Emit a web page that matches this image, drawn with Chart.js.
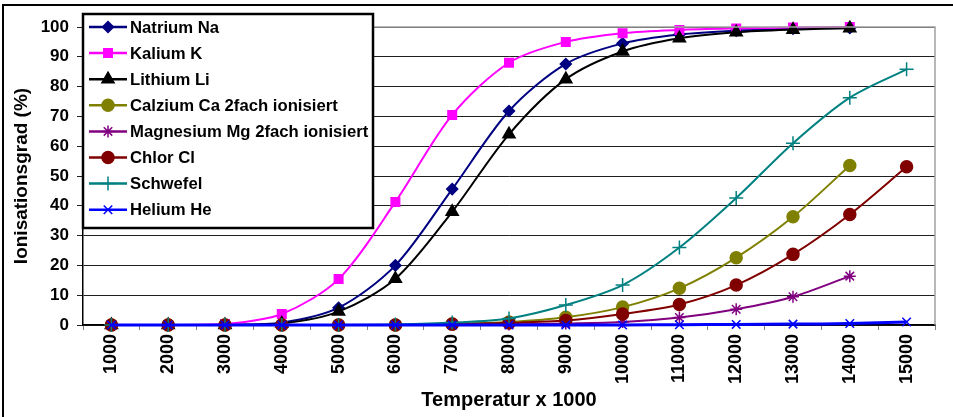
<!DOCTYPE html>
<html>
<head>
<meta charset="utf-8">
<script src="https://cdn.jsdelivr.net/npm/chart.js@4/dist/chart.umd.min.js"></script>
<style>
  html, body { margin: 0; padding: 0; background: #fff; }
  #wrap { width: 953px; height: 417px; position: relative; }
</style>
</head>
<body>
<div id="wrap"><canvas id="ionChart" width="953" height="417"></canvas></div>
<script>
// Temperature categories (x 1000)
const temps = ["1000","2000","3000","4000","5000","6000","7000","8000","9000","10000","11000","12000","13000","14000","15000"];
const yTicks = [0,10,20,30,40,50,60,70,80,90,100];

// Ionisation degree (%)
const natrium   = [0, 0, 0.1, 0.8, 5.8, 20, 45.6, 71.8, 87.6, 94.5, 97.5, 98.8, 99.4, 99.7];
const kalium    = [0, 0, 0.3, 3.7, 15.4, 41.3, 70.5, 88, 95, 97.9, 99, 99.5, 99.8, 100];
const lithium   = [0, 0, 0, 0.5, 4.5, 15.5, 38, 64, 82.5, 91.8, 96.2, 98.2, 99.1, 99.6];
const calzium   = [0, 0, 0, 0, 0, 0, 0.3, 1.0, 2.6, 6.0, 12.3, 22.6, 36.3, 53.5];
const magnesium = [0, 0, 0, 0, 0, 0, 0.1, 0.2, 0.5, 1.0, 2.5, 5.3, 9.5, 16.4];
const chlor     = [0, 0, 0, 0, 0, 0, 0.3, 0.7, 1.5, 3.7, 6.9, 13.4, 23.7, 37.1, 53.1];
const schwefel  = [0, 0, 0, 0, 0, 0.2, 0.8, 2.2, 6.7, 13.4, 26, 42.6, 61, 76.3, 85.8];
const helium    = [0, 0, 0, 0, 0, 0, 0, 0, 0, 0, 0.1, 0.2, 0.3, 0.5, 1.0];

const FONT = "'Liberation Sans', Arial, sans-serif";

function series(label, data, color, style, radius, width) {
    return {
        label: label,
        data: data,
        borderColor: color,
        backgroundColor: color,
        pointBackgroundColor: color,
        pointBorderColor: color,
        pointStyle: style,
        pointRadius: radius,
        pointHoverRadius: radius,
        pointBorderWidth: 1.5,
        borderWidth: width || 2,
        tension: 0.3,
        clip: false,
        fill: false
    };
}

const datasets = [
    series("Natrium Na", natrium, "#000080", "rectRot", 5.5),
    series("Kalium K", kalium, "#ff00ff", "rect", 6),
    series("Lithium Li", lithium, "#000000", "triangle", 7),
    series("Calzium Ca 2fach ionisiert", calzium, "#808000", "circle", 6),
    series("Magnesium Mg 2fach ionisiert", magnesium, "#800080", "star", 6),
    series("Chlor Cl", chlor, "#800000", "circle", 6),
    series("Schwefel", schwefel, "#008080", "cross", 7),
    series("Helium He", helium, "#0000ff", "crossRot", 6, 3)
];
// later series on top, like the original
datasets.forEach((d, i) => d.order = datasets.length - i);

// frame, plot border and the boxed legend
const decor = {
    id: "decor",
    beforeDraw(chart) {
        const ctx = chart.ctx;
        ctx.save();
        ctx.fillStyle = "#fff";
        ctx.fillRect(0, 0, chart.width, chart.height);
        ctx.strokeStyle = "#000";
        ctx.lineWidth = 2;
        ctx.strokeRect(3, 5, 960, 430);
        ctx.restore();
    },
    afterDraw(chart) {
        const ctx = chart.ctx;
        const a = chart.chartArea;
        ctx.save();
        ctx.strokeStyle = "#a0a0a0";
        ctx.lineWidth = 1.5;
        ctx.beginPath();
        ctx.moveTo(a.left, a.top);
        ctx.lineTo(a.right, a.top);
        ctx.lineTo(a.right, a.bottom);
        ctx.stroke();

        // legend box
        const bx = 83, by = 14, bw = 290, bh = 214;
        ctx.fillStyle = "#fff";
        ctx.fillRect(bx, by, bw, bh);
        ctx.strokeStyle = "#000";
        ctx.lineWidth = 2.5;
        ctx.strokeRect(bx, by, bw, bh);

        ctx.font = "bold 16.7px " + FONT;
        ctx.textBaseline = "middle";
        ctx.textAlign = "left";
        chart.data.datasets.forEach((d, i) => {
            const y = 27 + i * 26.1;
            ctx.strokeStyle = d.borderColor;
            ctx.lineWidth = 2.5;
            ctx.beginPath();
            ctx.moveTo(89, y);
            ctx.lineTo(127, y);
            ctx.stroke();
            ctx.fillStyle = d.borderColor;
            ctx.lineWidth = 1.5;
            Chart.helpers.drawPoint(ctx, {
                pointStyle: d.pointStyle,
                radius: d.pointRadius,
                rotation: 0,
                borderWidth: 1.5
            }, 108, y);
            ctx.fillStyle = "#000";
            ctx.fillText(d.label, 130, y + 1);
        });
        ctx.restore();
    }
};

new Chart(document.getElementById("ionChart"), {
    type: "line",
    data: { labels: temps, datasets: datasets },
    plugins: [decor],
    options: {
        responsive: false,
        animation: false,
        layout: { padding: { top: 27, right: 18, left: 0, bottom: 0 } },
        plugins: { legend: { display: false }, tooltip: { enabled: false } },
        scales: {
            x: {
                offset: true,
                grid: { offset: true, drawOnChartArea: false, color: "#808080", tickLength: 5 },
                border: { color: "#000", width: 1.5 },
                ticks: {
                    color: "#000", minRotation: 90, maxRotation: 90, padding: 4,
                    font: { family: FONT, size: 18, weight: "bold" }
                },
                title: {
                    display: true, text: "Temperatur x 1000", color: "#000",
                    font: { family: FONT, size: 20, weight: "bold" },
                    padding: { top: 0, bottom: 5 }
                },
                afterFit(scale) { scale.height = 92; }
            },
            y: {
                min: 0, max: 100,
                afterBuildTicks(scale) { scale.ticks = yTicks.map(v => ({ value: v })); },
                grid: { color: "#202020", lineWidth: 1, tickLength: 6 },
                border: { color: "#000", width: 1.5 },
                ticks: {
                    color: "#000", padding: 8,
                    font: { family: FONT, size: 17, weight: "bold" }
                },
                title: {
                    display: true, text: "Ionisationsgrad (%)", color: "#000",
                    font: { family: FONT, size: 19, weight: "bold" },
                    padding: { top: 10, bottom: 0 }
                },
                afterFit(scale) { scale.width = 83; }
            }
        }
    }
});
</script>
</body>
</html>
